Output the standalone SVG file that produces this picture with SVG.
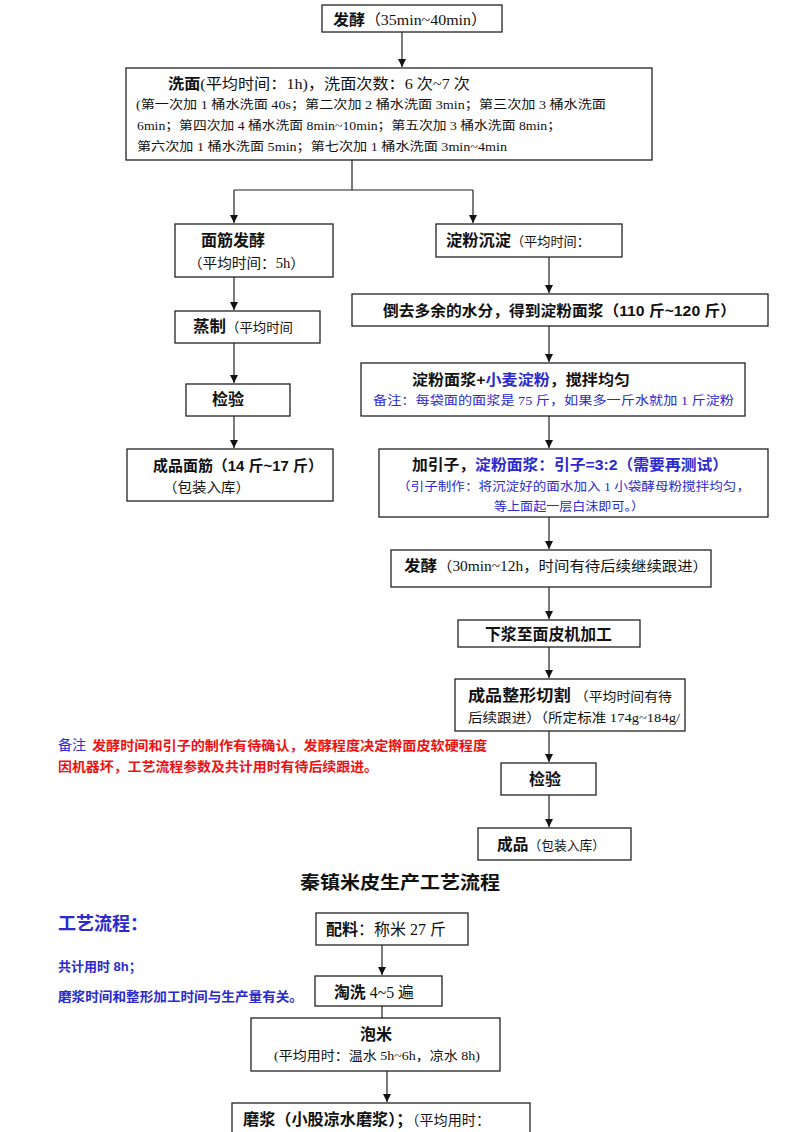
<svg xmlns="http://www.w3.org/2000/svg" width="800" height="1132" viewBox="0 0 800 1132">
<defs>
<marker id="ah" markerWidth="8" markerHeight="8" refX="8" refY="4" orient="auto" markerUnits="userSpaceOnUse">
<path d="M0,0 L8,4 L0,8 Z" fill="#111"/>
</marker>
<style>
rect{fill:#fff;stroke:#222;stroke-width:1.3}
.c line,.c polyline{stroke:#222;stroke-width:1.2;fill:none}
.a{marker-end:url(#ah)}
text{font-family:"Liberation Serif","Noto Sans CJK SC",serif;fill:#111}
.b{font-family:"Liberation Sans","Noto Sans CJK SC",sans-serif;font-weight:bold}
.bl{fill:#2a2ad0}
.rd{fill:#f01010}
.s12{font-size:12px}.s13{font-size:13px}.s14{font-size:14px}.s15{font-size:15px}.s16{font-size:16px}
</style>
</defs>
<rect width="800" height="1132" style="fill:#fff;stroke:none"/>
<g class="c">
<line class="a" x1="402" y1="32" x2="402" y2="67"/>
<polyline points="352,160 352,190"/>
<line x1="234" y1="190" x2="473" y2="190"/>
<line class="a" x1="234" y1="190" x2="234" y2="223"/>
<line class="a" x1="473" y1="190" x2="473" y2="223"/>
<line class="a" x1="234" y1="277" x2="234" y2="310"/>
<line class="a" x1="234" y1="343" x2="234" y2="383"/>
<line class="a" x1="234" y1="416" x2="234" y2="448"/>
<line class="a" x1="549" y1="257" x2="549" y2="293"/>
<line class="a" x1="549" y1="326" x2="549" y2="362"/>
<line class="a" x1="549" y1="416" x2="549" y2="448"/>
<line class="a" x1="549" y1="517" x2="549" y2="549"/>
<line class="a" x1="549" y1="587" x2="549" y2="619"/>
<line class="a" x1="549" y1="647" x2="549" y2="678"/>
<line class="a" x1="549" y1="731" x2="549" y2="762"/>
<line class="a" x1="549" y1="795" x2="549" y2="827"/>
<line class="a" x1="382" y1="945" x2="382" y2="975"/>
<line x1="382" y1="1006" x2="382" y2="1018"/>
<line class="a" x1="387" y1="1071" x2="387" y2="1102"/>
</g>
<g id="n1"><rect x="322" y="5" width="180" height="27"/>
<text x="333" y="25" class="s15" textLength="154" lengthAdjust="spacingAndGlyphs"><tspan class="b">发酵</tspan><tspan>（35min~40min）</tspan></text></g>
<g id="n2"><rect x="126" y="68" width="526" height="92"/>
<text x="168" y="89" class="s15" textLength="302" lengthAdjust="spacingAndGlyphs"><tspan class="b">洗面</tspan><tspan>(平均时间：1h)，洗面次数：6 次~7 次</tspan></text>
<text x="136" y="109" class="s12" textLength="470" lengthAdjust="spacingAndGlyphs">(第一次加 1 桶水洗面 40s；第二次加 2 桶水洗面 3min；第三次加 3 桶水洗面</text>
<text x="137" y="130" class="s12" textLength="424" lengthAdjust="spacingAndGlyphs">6min；第四次加 4 桶水洗面 8min~10min；第五次加 3 桶水洗面 8min；</text>
<text x="137" y="151" class="s12" textLength="370" lengthAdjust="spacingAndGlyphs">第六次加 1 桶水洗面 5min；第七次加 1 桶水洗面 3min~4min</text></g>
<g id="n3"><rect x="175" y="224" width="158" height="53"/>
<text x="201" y="246" class="s16 b" textLength="64" lengthAdjust="spacingAndGlyphs">面筋发酵</text>
<text x="188" y="268" class="s14" textLength="117" lengthAdjust="spacingAndGlyphs">（平均时间：5h）</text></g>
<g id="n4"><rect x="436" y="224" width="186" height="33"/>
<text x="446" y="246" class="s16" textLength="144" lengthAdjust="spacingAndGlyphs"><tspan class="b">淀粉沉淀</tspan><tspan class="s13">（平均时间：</tspan></text></g>
<g id="n5"><rect x="175" y="311" width="145" height="32"/>
<text x="193" y="332" class="s16" textLength="100" lengthAdjust="spacingAndGlyphs"><tspan class="b">蒸制</tspan><tspan class="s13">（平均时间</tspan></text></g>
<g id="n6"><rect x="186" y="384" width="104" height="32"/>
<text x="212" y="405" class="s16 b">检验</text></g>
<g id="n7"><rect x="127" y="449" width="206" height="52"/>
<text x="153" y="471" class="s15 b" textLength="170" lengthAdjust="spacingAndGlyphs">成品面筋（14 斤~17 斤）</text>
<text x="163" y="492" class="s14" textLength="87" lengthAdjust="spacingAndGlyphs">（包装入库）</text></g>
<g id="n8"><rect x="352" y="294" width="416" height="32"/>
<text x="383" y="316" class="s15 b" textLength="353" lengthAdjust="spacingAndGlyphs">倒去多余的水分，得到淀粉面浆（110 斤~120 斤）</text></g>
<g id="n9"><rect x="361" y="363" width="384" height="53"/>
<text x="412" y="385" class="s15 b" textLength="218" lengthAdjust="spacingAndGlyphs"><tspan>淀粉面浆+</tspan><tspan class="bl">小麦淀粉</tspan><tspan>，搅拌均匀</tspan></text>
<text x="373" y="405" class="s12 bl" textLength="361" lengthAdjust="spacingAndGlyphs">备注：每袋面的面浆是 75 斤，如果多一斤水就加 1 斤淀粉</text></g>
<g id="n10"><rect x="379" y="449" width="389" height="68"/>
<text x="412" y="470" class="s15 b" textLength="316" lengthAdjust="spacingAndGlyphs"><tspan>加引子，</tspan><tspan class="bl">淀粉面浆：引子=3:2（需要再测试）</tspan></text>
<text x="397" y="491" class="s12 bl" textLength="353" lengthAdjust="spacingAndGlyphs">（引子制作：将沉淀好的面水加入 1 小袋酵母粉搅拌均匀，</text>
<text x="494" y="511" class="s12 bl" textLength="150" lengthAdjust="spacingAndGlyphs">等上面起一层白沫即可。）</text></g>
<g id="n11"><rect x="391" y="550" width="320" height="37"/>
<text x="404" y="571" class="s15" textLength="304" lengthAdjust="spacingAndGlyphs"><tspan class="b">发酵</tspan><tspan class="s14">（30min~12h，时间有待后续继续跟进）</tspan></text></g>
<g id="n12"><rect x="458" y="620" width="182" height="27"/>
<text x="485" y="640" class="s16 b" textLength="127" lengthAdjust="spacingAndGlyphs">下浆至面皮机加工</text></g>
<g id="n13"><rect x="455" y="679" width="230" height="52"/>
<text x="468" y="701" class="s16" textLength="204" lengthAdjust="spacingAndGlyphs"><tspan class="b">成品整形切割</tspan><tspan class="s13" dx="4">（平均时间有待</tspan></text>
<text x="468" y="722" class="s13" textLength="212" lengthAdjust="spacingAndGlyphs">后续跟进）（所定标准 174g~184g/</text></g>
<g id="n14"><rect x="501" y="763" width="95" height="32"/>
<text x="529" y="785" class="s16 b">检验</text></g>
<g id="n15"><rect x="478" y="828" width="153" height="32"/>
<text x="497" y="850" class="s16" textLength="108" lengthAdjust="spacingAndGlyphs"><tspan class="b">成品</tspan><tspan class="s13">（包装入库）</tspan></text></g>
<g id="note1">
<text x="58" y="750" class="s14"><tspan class="bl">备注</tspan><tspan class="b rd s13" dx="6" textLength="395" lengthAdjust="spacingAndGlyphs">发酵时间和引子的制作有待确认，发酵程度决定擀面皮软硬程度</tspan></text>
<text x="58" y="771" class="s13 b rd" textLength="320" lengthAdjust="spacingAndGlyphs">因机器坏，工艺流程参数及共计用时有待后续跟进。</text></g>
<g id="title"><text x="400" y="889" text-anchor="middle" style="font-family:'Noto Sans CJK SC',sans-serif;font-size:18px;font-weight:bold" textLength="200" lengthAdjust="spacingAndGlyphs">秦镇米皮生产工艺流程</text></g>
<g id="note2">
<text x="58" y="930" class="b bl" style="font-size:18px">工艺流程：</text>
<text x="58" y="971" class="b bl s13">共计用时 8h；</text>
<text x="58" y="1001" class="b bl s13" textLength="245" lengthAdjust="spacingAndGlyphs">磨浆时间和整形加工时间与生产量有关。</text></g>
<g id="m1"><rect x="316" y="913" width="152" height="32"/>
<text x="326" y="935" class="s16" textLength="120" lengthAdjust="spacingAndGlyphs"><tspan class="b">配料</tspan><tspan>：称米 27 斤</tspan></text></g>
<g id="m2"><rect x="315" y="976" width="127" height="30"/>
<text x="334" y="998" class="s16" textLength="80" lengthAdjust="spacingAndGlyphs"><tspan class="b">淘洗</tspan><tspan> 4~5 遍</tspan></text></g>
<g id="m3"><rect x="251" y="1018" width="249" height="53"/>
<text x="376" y="1040" class="s16 b" text-anchor="middle">泡米</text>
<text x="274" y="1060" class="s13" textLength="206" lengthAdjust="spacingAndGlyphs">(平均用时：温水 5h~6h，凉水 8h)</text></g>
<g id="m4"><rect x="232" y="1103" width="298" height="40"/>
<text x="243" y="1125" class="s16" textLength="247" lengthAdjust="spacingAndGlyphs"><tspan class="b">磨浆（小股凉水磨浆）；</tspan><tspan class="s14">（平均用时：</tspan></text></g>
</svg>
